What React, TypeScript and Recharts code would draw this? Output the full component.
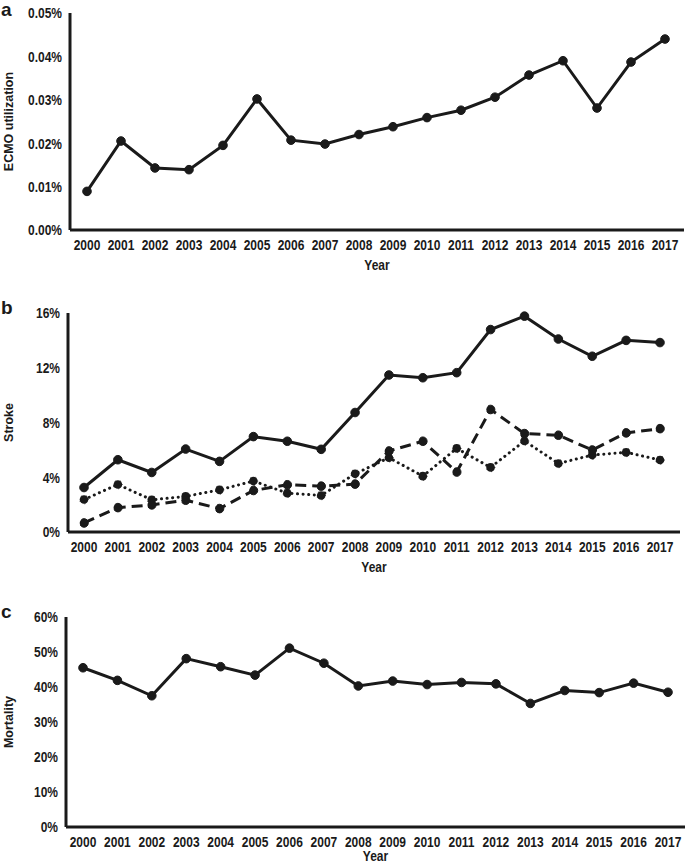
import React from 'react'
import { LineChart, Line, XAxis, YAxis } from 'recharts'

const years = [
  '2000', '2001', '2002', '2003', '2004', '2005', '2006', '2007', '2008',
  '2009', '2010', '2011', '2012', '2013', '2014', '2015', '2016', '2017',
]

// panel a, ECMO utilization in %
const ecmoUtil = [
  0.0089, 0.0205, 0.0143, 0.0139, 0.0195, 0.0302, 0.0207, 0.0198, 0.022,
  0.0238, 0.0259, 0.0276, 0.0306, 0.0357, 0.039, 0.0281, 0.0387, 0.044,
]

// panel b, stroke in %
const strokeSolid = [
  3.25, 5.28, 4.35, 6.06, 5.16, 6.97, 6.63, 6.04, 8.73,
  11.47, 11.27, 11.64, 14.79, 15.77, 14.1, 12.84, 14.0, 13.84,
]
const strokeDashed = [
  0.66, 1.78, 1.98, 2.32, 1.71, 3.03, 3.45, 3.35, 3.5,
  5.92, 6.63, 4.38, 8.95, 7.19, 7.07, 5.99, 7.24, 7.55,
]
const strokeDotted = [
  2.37, 3.47, 2.35, 2.6, 3.08, 3.72, 2.84, 2.67, 4.25,
  5.43, 4.08, 6.11, 4.72, 6.65, 5.01, 5.62, 5.82, 5.26,
]

// panel c, mortality in %
const mortality = [
  45.5, 41.9, 37.5, 48.1, 45.8, 43.4, 51.1, 46.8, 40.3,
  41.7, 40.7, 41.3, 40.9, 35.3, 39.0, 38.4, 41.1, 38.5,
]

const ecmoTicks = [0, 0.01, 0.02, 0.03, 0.04, 0.05]
const strokeTicks = [0, 4, 8, 12, 16]
const mortalityTicks = [0, 10, 20, 30, 40, 50, 60]

const dataA = years.map((year, i) => ({ year, ecmo: ecmoUtil[i] }))
const dataB = years.map((year, i) => ({
  year,
  solid: strokeSolid[i],
  dashed: strokeDashed[i],
  dotted: strokeDotted[i],
}))
const dataC = years.map((year, i) => ({ year, mortality: mortality[i] }))

const ink = '#1a1a1a'
const sans = "'Liberation Sans', Arial, sans-serif"
const titleStyle = {
  fill: ink,
  fontSize: 12.5,
  fontWeight: 700,
  fontFamily: sans,
  textAnchor: 'middle' as const,
}
const axisLine = { stroke: ink, strokeWidth: 3 }
const dot = { r: 4.3, fill: ink, stroke: ink, strokeWidth: 1 }

// condensed bold text, squeezed horizontally since no narrow font is around
const Condensed = ({ x, y, anchor, dy, text, size = 15 }: any) => (
  <g transform={`translate(${x},${y})`}>
    <text
      transform="scale(0.8,1)"
      textAnchor={anchor}
      dy={dy}
      fill={ink}
      fontSize={size}
      fontWeight={700}
      fontFamily={sans}
    >
      {text}
    </text>
  </g>
)

const xTick = (props: any) => (
  <Condensed x={props.x} y={props.y} anchor="middle" dy="0.8em" text={props.payload.value} />
)

const yTick = (fmt: (v: number) => string) => (props: any) => (
  <Condensed x={props.x} y={props.y} anchor="end" dy="0.36em" text={fmt(props.payload.value)} />
)

const yearLabel = (shift: number) => (props: any) => {
  const vb = props.viewBox
  return (
    <Condensed x={vb.x + vb.width / 2} y={vb.y + vb.height + shift} anchor="middle" dy="-0.25em" text="Year" size={15} />
  )
}

const panelLetter = (letter: string, top: number) => (
  <div
    style={{
      position: 'absolute',
      left: 1,
      top,
      fontFamily: sans,
      fontWeight: 700,
      fontSize: 19,
      lineHeight: '19px',
      color: ink,
    }}
  >
    {letter}
  </div>
)

const xAxisFor = (padLeft: number, padRight: number, height: number, shift: number) => (
  <XAxis
    dataKey="year"
    interval={0}
    tickLine={false}
    axisLine={axisLine}
    tick={xTick}
    padding={{ left: padLeft, right: padRight }}
    height={height}
    label={yearLabel(shift)}
  />
)

export default function App() {
  return (
    <div style={{ position: 'absolute', left: 0, top: 0, width: 685, height: 866, background: '#fff', overflow: 'hidden' }}>
      {panelLetter('a', 0)}
      {panelLetter('b', 298)}
      {panelLetter('c', 602)}

      <div style={{ position: 'absolute', left: 0, top: 0 }}>
        <LineChart width={685} height={280} data={dataA} margin={{ top: 13, right: 1, bottom: 10, left: 0 }}>
          {xAxisFor(17, 19, 40, 4)}
          <YAxis
            width={70}
            domain={[0, 0.05]}
            ticks={ecmoTicks}
            tickLine={false}
            axisLine={axisLine}
            tick={yTick((v) => `${v.toFixed(2)}%`)}
            label={{ value: 'ECMO utilization', angle: -90, position: 'insideLeft', offset: 9, style: titleStyle }}
          />
          <Line dataKey="ecmo" stroke={ink} strokeWidth={3} dot={dot} isAnimationActive={false} />
        </LineChart>
      </div>

      <div style={{ position: 'absolute', left: 0, top: 290 }}>
        <LineChart width={685} height={285} data={dataB} margin={{ top: 23, right: 5, bottom: 3, left: 0 }}>
          {xAxisFor(16, 20, 40, 4)}
          <YAxis
            width={68}
            domain={[0, 16]}
            ticks={strokeTicks}
            tickLine={false}
            axisLine={axisLine}
            tick={yTick((v) => `${v}%`)}
            label={{ value: 'Stroke', angle: -90, position: 'insideLeft', offset: 9, style: titleStyle }}
          />
          <Line dataKey="dotted" stroke={ink} strokeWidth={3} strokeDasharray="0.1 5.5" strokeLinecap="round" dot={dot} isAnimationActive={false} />
          <Line dataKey="dashed" stroke={ink} strokeWidth={3} strokeDasharray="11 6" dot={dot} isAnimationActive={false} />
          <Line dataKey="solid" stroke={ink} strokeWidth={3} dot={dot} isAnimationActive={false} />
        </LineChart>
      </div>

      <div style={{ position: 'absolute', left: 0, top: 580 }}>
        <LineChart width={685} height={286} data={dataC} margin={{ top: 37, right: 0, bottom: 2, left: 0 }}>
          {xAxisFor(17, 17, 37, 1)}
          <YAxis
            width={66}
            domain={[0, 60]}
            ticks={mortalityTicks}
            tickLine={false}
            axisLine={axisLine}
            tick={yTick((v) => `${v}%`)}
            label={{ value: 'Mortality', angle: -90, position: 'insideLeft', offset: 9, style: titleStyle }}
          />
          <Line dataKey="mortality" stroke={ink} strokeWidth={3} dot={dot} isAnimationActive={false} />
        </LineChart>
      </div>
    </div>
  )
}
